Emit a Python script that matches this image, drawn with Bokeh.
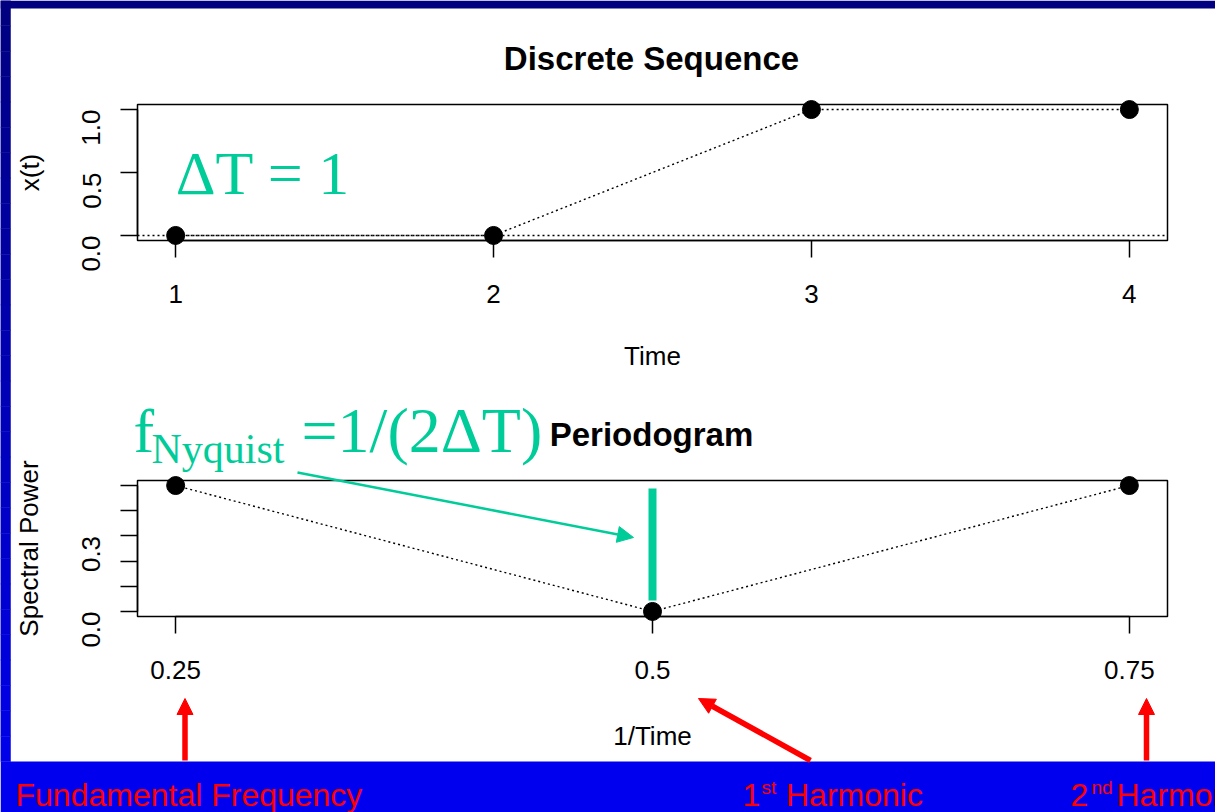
import math
from bokeh.plotting import figure
from bokeh.models import (Range1d, FixedTicker, Label, Arrow, NormalHead, LinearAxis,
                          BoxAnnotation)
from bokeh.embed import file_html
from bokeh.resources import INLINE

# ---------------- data ----------------
time = [1, 2, 3, 4]
xt = [0, 0, 1, 1]
freq = [0.25, 0.5, 0.75]
power = [0.5, 0.0, 0.5]
DT = 1
nyquist = 1 / (2 * DT)

x_ticks_top = [1, 2, 3, 4]
x_tick_labels_top = ["1", "2", "3", "4"]
y_ticks_top = [0.0, 0.5, 1.0]
y_tick_labels_top = ["0.0", "0.5", "1.0"]
x_ticks_bot = [0.25, 0.5, 0.75]
x_tick_labels_bot = ["0.25", "0.5", "0.75"]
y_ticks_bot = [0.0, 0.1, 0.2, 0.3, 0.4, 0.5]
y_tick_labels_bot = ["0.0", "", "", "0.3", "", ""]

# plot limits (R style 4% padding)
xlim_top = (0.88, 4.12)
ylim_top = (-0.04, 1.04)
xlim_bot = (0.23, 0.77)
ylim_bot = (-0.02, 0.52)

# ---------------- layout / style ----------------
W, H = 1215, 812
BOX_X = (137, 1167)          # pixel columns of both plot boxes
BOX_TOP_Y = (104, 240)       # pixel rows (top, bottom) of upper box
BOX_BOT_Y = (480, 616)       # pixel rows (top, bottom) of lower box
SANS = "Liberation Sans"
SERIF = "Liberation Serif"
GREEN = "#00CC99"
RED = "#FF0000"
BLUE = "#0000EE"
DOT = "2 3"


def xrange_for(lim, px):
    k = (lim[1] - lim[0]) / (px[1] - px[0])
    return Range1d(lim[0] - px[0] * k, lim[1] + (W - px[1]) * k)


def yrange_for(lim, py):
    k = (lim[1] - lim[0]) / (py[1] - py[0])
    return Range1d(lim[0] - (H - py[1]) * k, lim[1] + py[0] * k)


def sy(y):
    """screen row -> canvas data y (default range)"""
    return H - y


p = figure(width=W, height=H, x_range=Range1d(0, W), y_range=Range1d(0, H),
           x_axis_type=None, y_axis_type=None, title=None,
           output_backend="svg", toolbar_location=None, min_border=0)
p.outline_line_color = None
p.background_fill_color = "white"
p.border_fill_color = "white"
p.extra_x_ranges = {"tx": xrange_for(xlim_top, BOX_X), "bx": xrange_for(xlim_bot, BOX_X)}
p.extra_y_ranges = {"ty": yrange_for(ylim_top, BOX_TOP_Y), "by": yrange_for(ylim_bot, BOX_BOT_Y)}

# ---------------- slide decoration (background) ----------------
NS = 30
strip_top, strip_bottom, strip_color = [], [], []
for i in range(NS):
    strip_top.append(sy(761 * i / NS))
    strip_bottom.append(sy(761 * (i + 1) / NS))
    strip_color.append("#0000%02X" % int(128 + (235 - 128) * (i + 0.5) / NS))
p.quad(left=0, right=10, top=strip_top, bottom=strip_bottom, fill_color=strip_color,
       line_color=strip_color, line_width=0.5, level="underlay")
p.quad(left=[0, 0], right=[W, W], top=[sy(0), sy(761)], bottom=[sy(8), 0],
       fill_color=["#000080", BLUE], line_color=None, level="underlay")


def add_axes(xr, yr, xlim, ylim, xt_, xl_, yt_, yl_, xlab, ylab, xlab_standoff, ylab_standoff):
    xa = LinearAxis(x_range_name=xr, y_range_name=yr, fixed_location=ylim[0],
                    ticker=FixedTicker(ticks=xt_), bounds=(min(xt_), max(xt_)),
                    major_label_overrides={t: l for t, l in zip(xt_, xl_)}, axis_label=xlab)
    ya = LinearAxis(x_range_name=xr, y_range_name=yr, fixed_location=xlim[0],
                    ticker=FixedTicker(ticks=yt_), bounds=(min(yt_), max(yt_)),
                    major_label_overrides={t: l for t, l in zip(yt_, yl_)}, axis_label=ylab,
                    major_label_orientation=math.pi / 2)
    for ax in (xa, ya):
        ax.axis_line_width = 1.5
        ax.axis_line_color = "black"
        ax.major_tick_line_width = 1.5
        ax.major_tick_line_color = "black"
        ax.major_tick_out = 17
        ax.major_tick_in = 0
        ax.minor_tick_out = 0
        ax.minor_tick_in = 0
        ax.major_label_text_font = SANS
        ax.major_label_text_font_size = "26px"
        ax.major_label_text_color = "black"
        ax.axis_label_text_font = SANS
        ax.axis_label_text_font_size = "26px"
        ax.axis_label_text_font_style = "normal"
        ax.axis_label_text_color = "black"
    xa.major_label_standoff = 27
    xa.axis_label_standoff = xlab_standoff
    ya.major_label_standoff = 29
    ya.axis_label_standoff = ylab_standoff
    p.add_layout(xa, "below")
    p.add_layout(ya, "left")
    p.add_layout(BoxAnnotation(left=xlim[0], right=xlim[1], bottom=ylim[0], top=ylim[1],
                               x_range_name=xr, y_range_name=yr, fill_alpha=0,
                               line_color="black", line_width=1.5, line_alpha=1))


def label(x, y, text, font, size, color, align="left", style="normal", xr="default", yr="default"):
    p.add_layout(Label(x=x, y=y, text=text, text_font=font, text_font_size=size,
                       text_color=color, text_align=align, text_baseline="alphabetic",
                       text_font_style=style, x_range_name=xr, y_range_name=yr))


# ---------------- top: discrete sequence ----------------
add_axes("tx", "ty", xlim_top, ylim_top, x_ticks_top, x_tick_labels_top,
         y_ticks_top, y_tick_labels_top, "Time", "x(t)", 35, 26)
p.segment(x0=[xlim_top[0]], x1=[xlim_top[1]], y0=[0], y1=[0], line_color="black",
          line_dash=DOT, line_width=1.4, x_range_name="tx", y_range_name="ty")
p.line(time, xt, line_color="black", line_dash=DOT, line_width=1.4,
       x_range_name="tx", y_range_name="ty")
p.scatter(time, xt, size=18, color="black", x_range_name="tx", y_range_name="ty")
label(651, sy(57.5), "Discrete Sequence", SANS, "33px", "black", align="center", style="bold")
label(1.0, 0.5, "\u0394T = 1", SERIF, "62px", GREEN, xr="tx", yr="ty")

# ---------------- bottom: periodogram ----------------
add_axes("bx", "by", xlim_bot, ylim_bot, x_ticks_bot, x_tick_labels_bot,
         y_ticks_bot, y_tick_labels_bot, "1/Time", "Spectral Power", 39, 27)
p.line(freq, power, line_color="black", line_dash=DOT, line_width=1.4,
       x_range_name="bx", y_range_name="by")
p.scatter(freq, power, size=18, color="black", x_range_name="bx", y_range_name="by")
p.segment(x0=[nyquist], y0=[0.0435], x1=[nyquist], y1=[0.488], line_color=GREEN,
          line_width=8, x_range_name="bx", y_range_name="by")
label(651, sy(433.5), "Periodogram", SANS, "33px", "black", align="center", style="bold")

# Nyquist annotation
label(133, sy(430.7), "f", SERIF, "62px", GREEN)
label(151, sy(448.2), "Nyquist", SERIF, "42px", GREEN)
label(301, sy(430), "=1/(2\u0394T)", SERIF, "64px", GREEN)
p.add_layout(Arrow(x_start=297, y_start=sy(472), x_end=633, y_end=sy(537),
                   line_color=GREEN, line_width=2.5,
                   end=NormalHead(size=16, fill_color=GREEN, line_color=GREEN)))

# red arrows to the harmonics
for (x0, y0, x1, y1) in [(184.5, 760, 184.5, 698), (810, 760, 698, 698), (1146, 760, 1146, 698)]:
    p.add_layout(Arrow(x_start=x0, y_start=sy(y0), x_end=x1, y_end=sy(y1),
                       line_color=RED, line_width=5.5,
                       end=NormalHead(size=16, fill_color=RED, line_color=RED)))

# captions in the bottom band
CAP_Y = 794
label(15, sy(CAP_Y), "Fundamental Frequency", SANS, "32px", RED)
label(742, sy(CAP_Y), "1", SANS, "32px", RED)
label(761, sy(CAP_Y - 7), "st", SANS, "19px", RED)
label(785.5, sy(CAP_Y), "Harmonic", SANS, "32px", RED)
label(1070, sy(CAP_Y), "2", SANS, "32px", RED)
label(1091, sy(CAP_Y - 7), "nd", SANS, "19px", RED)
label(1116, sy(CAP_Y), "Harmonic", SANS, "32px", RED)

open("out.html", "w").write(file_html(p, INLINE))
